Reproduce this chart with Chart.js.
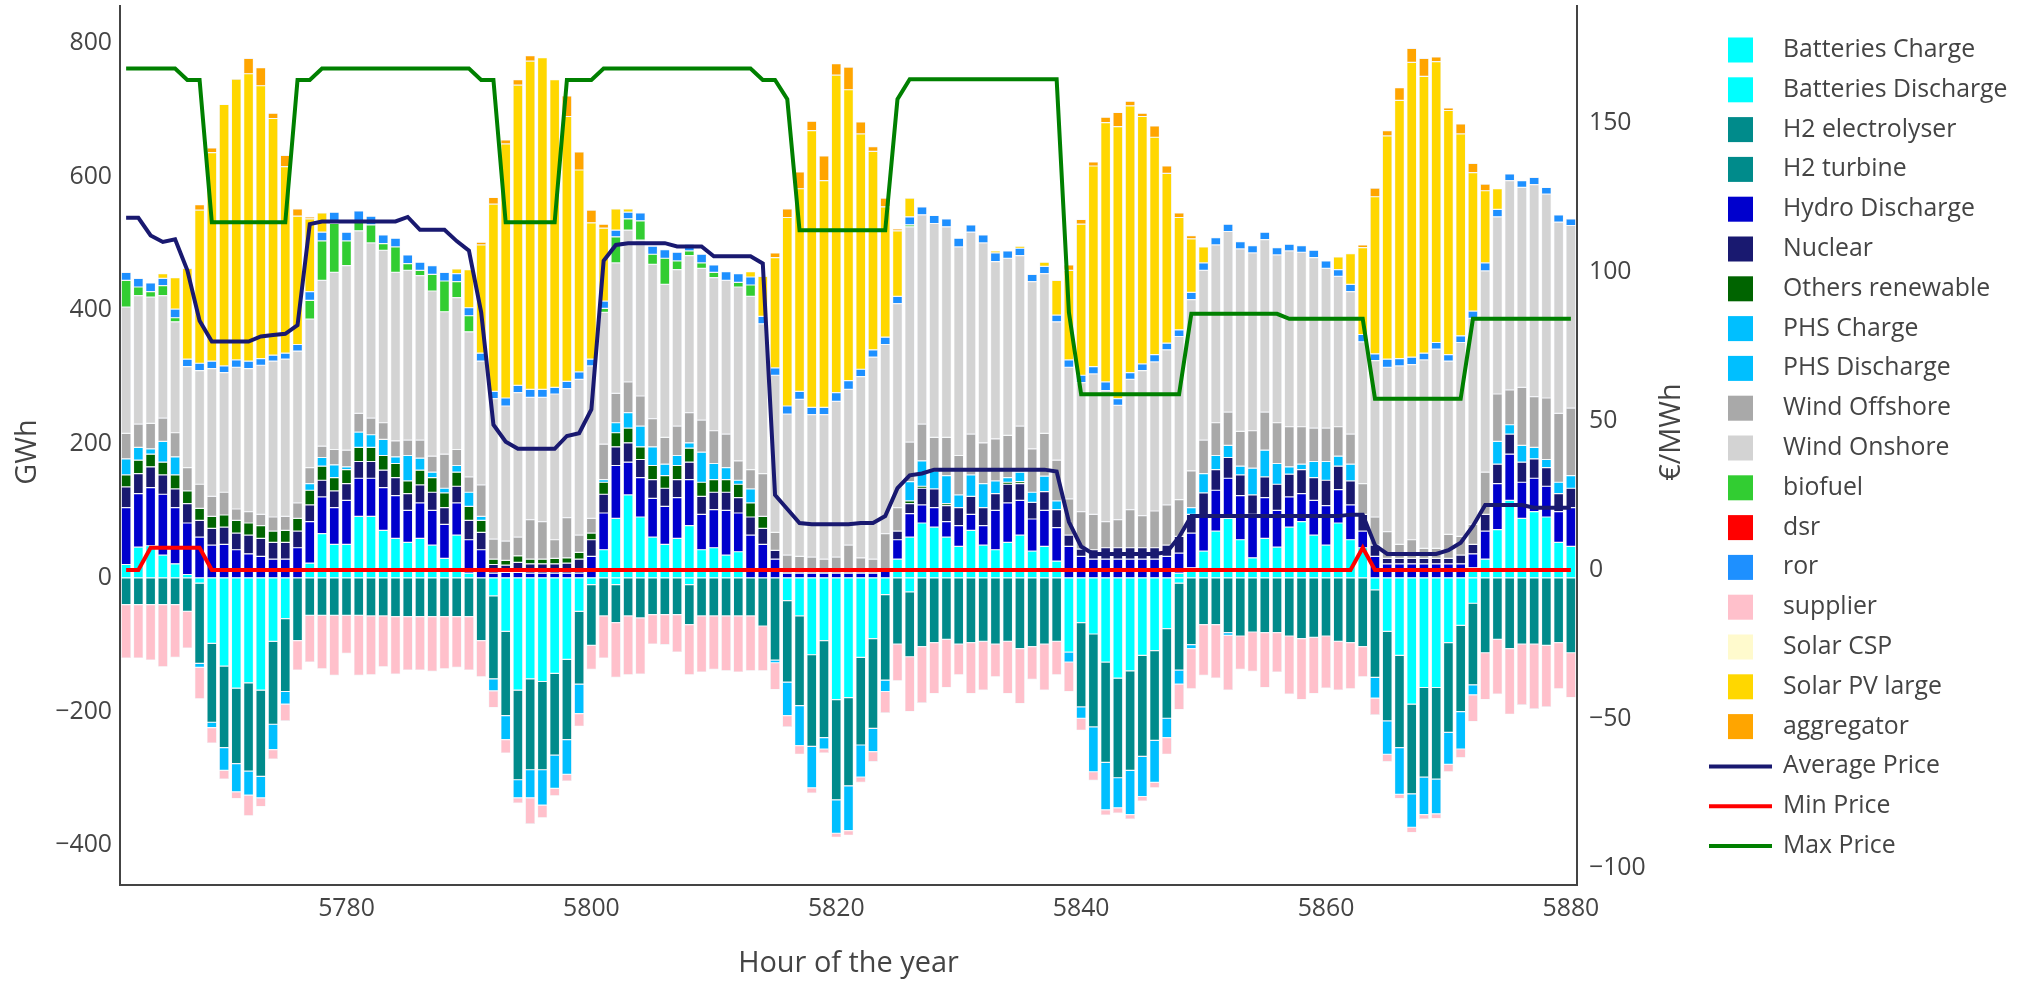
<!DOCTYPE html>
<html>
<head>
<meta charset="utf-8">
<title>Hourly dispatch and prices</title>
<script src="https://cdn.jsdelivr.net/npm/chart.js@4.4.1/dist/chart.umd.min.js"></script>
<style>
  html, body { margin: 0; padding: 0; background: #ffffff; }
  #wrap { width: 2020px; height: 981px; position: relative; }
  canvas { display: block; }
</style>
</head>
<body>
<div id="wrap"><canvas id="dispatch" width="2020" height="981"></canvas></div>
<script>
// Hour-of-year categories
const hours = [
  5762,5763,5764,5765,5766,5767,5768,5769,5770,5771,5772,5773,5774,5775,5776,5777,5778,5779,5780,5781,
  5782,5783,5784,5785,5786,5787,5788,5789,5790,5791,5792,5793,5794,5795,5796,5797,5798,5799,5800,5801,
  5802,5803,5804,5805,5806,5807,5808,5809,5810,5811,5812,5813,5814,5815,5816,5817,5818,5819,5820,5821,
  5822,5823,5824,5825,5826,5827,5828,5829,5830,5831,5832,5833,5834,5835,5836,5837,5838,5839,5840,5841,
  5842,5843,5844,5845,5846,5847,5848,5849,5850,5851,5852,5853,5854,5855,5856,5857,5858,5859,5860,5861,
  5862,5863,5864,5865,5866,5867,5868,5869,5870,5871,5872,5873,5874,5875,5876,5877,5878,5879,5880
];

// Tick values
const xTickValues = [5780, 5800, 5820, 5840, 5860, 5880];
const energyTicks = [-400, -200, 0, 200, 400, 600, 800];
const priceTicks = [-100, -50, 0, 50, 100, 150];

// Energy per technology (GWh); consumption is negative
const batteriesCharge = [
  0,0,0,0,0,0,-8,-98,-132,-165,-157,-168,-95,-61,0,0,0,0,0,0,
  0,0,0,0,0,0,0,0,0,0,-27,-80,-168,-151,-155,-143,-122,-50,-10,0,
  -10,0,0,0,0,0,-10,0,0,0,0,0,0,0,-34,-57,-115,-94,-182,-179,
  -119,-91,-25,0,-21,0,0,0,0,0,0,0,0,0,0,0,0,-111,-67,-84,
  -126,-150,-139,-116,-109,-76,-8,0,0,0,0,0,0,0,0,0,0,0,0,0,
  0,0,-18,-80,-116,-189,-164,-164,-97,-71,-38,0,0,0,0,0,0,0,0
];
const batteriesDischarge = [
  20,46,48,34,21,5,0,0,0,0,0,0,0,0,0,22,66,50,50,92,
  92,71,59,53,59,49,29,64,7,0,0,0,0,0,0,0,0,0,0,42,
  89,124,91,61,50,59,78,42,45,34,39,0,0,0,0,0,0,0,0,0,
  0,0,0,28,61,82,76,61,47,71,49,42,53,64,40,47,25,0,0,0,
  0,0,0,0,0,0,7,15,40,70,89,57,30,59,46,76,84,64,49,82,
  57,45,0,0,0,0,0,0,0,0,15,28,72,116,89,99,91,53,47
];
const h2Electrolyser = [
  -40,-40,-40,-40,-40,-50,-120,-118,-122,-113,-132,-129,-124,-109,-94,-56,-56,-56,-56,-56,
  -57,-57,-58,-58,-58,-58,-58,-58,-58,-94,-124,-126,-134,-136,-132,-122,-120,-109,-91,-57,
  -57,-57,-60,-55,-55,-55,-60,-57,-57,-57,-57,-57,-72,-123,-122,-134,-137,-145,-150,-132,
  -131,-134,-128,-99,-97,-103,-97,-92,-99,-97,-95,-99,-95,-106,-103,-99,-95,0,-126,-139,
  -150,-149,-149,-151,-134,-134,-130,-100,-70,-70,-82,-87,-81,-82,-82,-87,-91,-89,-87,-95,
  -97,-103,-131,-134,-138,-134,-134,-137,-134,-129,-122,-112,-92,-106,-99,-99,-101,-97,-112
];
const h2Turbine = [
  0,0,0,0,0,0,0,0,0,0,0,0,0,0,0,0,0,0,0,0,
  0,0,0,0,0,0,0,0,0,0,0,0,0,0,0,0,0,0,0,0,
  0,0,0,0,0,0,0,0,0,0,0,0,0,0,0,0,0,0,0,0,
  0,0,0,0,0,0,0,0,0,0,0,0,0,0,0,0,0,0,0,0,
  0,0,0,0,0,0,0,0,0,0,0,0,0,0,0,0,0,0,0,0,
  0,0,0,0,0,0,0,0,0,0,0,0,0,0,0,0,0,0,0
];
const hydroDischarge = [
  85,80,87,91,84,77,61,49,50,42,36,32,28,28,45,62,55,55,66,57,
  57,64,64,48,53,52,51,48,50,42,7,8,8,7,7,7,7,7,32,55,
  79,49,59,58,57,61,69,53,57,67,58,64,50,28,7,7,7,7,7,7,
  7,7,11,29,35,27,29,23,31,24,29,59,59,52,48,54,50,47,32,28,
  28,28,28,28,28,32,30,52,52,61,60,66,65,61,55,45,42,52,59,50,
  52,25,32,21,21,21,21,21,21,21,21,42,69,69,54,50,46,46,58
];
const nuclear = [
  31,30,31,29,28,29,25,25,26,25,28,27,25,25,25,25,25,25,25,25,
  25,26,27,25,27,27,25,25,29,26,13,11,15,14,14,14,15,21,25,28,
  28,29,27,28,27,27,26,27,26,27,23,27,24,13,0,0,0,0,0,0,
  0,0,0,13,15,25,28,24,27,27,27,25,28,25,25,28,27,17,11,14,
  17,17,17,17,17,17,25,28,35,31,31,31,29,31,39,34,36,34,38,35,
  36,25,17,8,8,8,8,8,8,13,14,25,29,30,30,29,28,27,29
];
const othersRenewable = [
  18,20,19,19,21,19,18,18,18,19,18,19,17,18,19,22,21,20,21,21,
  21,22,21,19,22,22,22,21,21,18,8,7,10,7,7,8,8,10,10,18,
  21,22,19,21,19,21,21,21,19,19,20,21,18,0,0,0,0,0,0,0,
  0,0,0,0,4,3,0,3,0,0,0,0,3,3,0,0,0,0,0,0,
  0,0,0,0,0,0,0,0,0,0,0,0,0,0,0,0,0,0,0,0,
  0,0,0,0,0,0,0,0,0,0,0,0,0,0,0,0,0,0,0
];
const phsCharge = [
  0,0,0,0,0,0,-6,-8,-34,-42,-36,-32,-38,-19,0,0,0,0,0,0,
  0,0,0,0,0,0,0,0,0,0,-18,-36,-27,-42,-53,-50,-52,-44,0,0,
  0,0,0,0,0,0,0,0,0,0,0,0,0,-4,-50,-60,-62,-17,-50,-67,
  -48,-35,-17,0,0,0,0,0,0,0,0,0,0,0,0,0,0,-15,-17,-67,
  -71,-45,-66,-60,-63,-29,-21,-6,0,0,-4,0,0,0,0,0,0,0,0,0,
  0,0,-31,-50,-70,-50,-56,-52,-48,-56,-15,0,0,0,0,0,0,0,0
];
const phsDischarge = [
  24,19,8,31,27,0,0,0,0,0,0,0,0,0,0,10,13,19,4,23,
  19,24,10,38,18,8,7,10,21,6,0,0,0,0,0,0,0,0,0,4,
  15,23,31,28,17,15,8,45,24,18,6,21,0,0,0,0,0,0,0,0,
  0,0,0,0,29,38,27,42,19,32,36,19,7,14,15,23,13,0,0,0,
  0,0,0,0,0,0,0,10,29,21,18,13,40,40,31,11,8,24,28,15,
  25,0,0,0,0,0,0,0,0,0,0,0,34,14,25,17,12,17,19
];
const windOffshore = [
  38,35,38,35,36,35,36,30,34,17,17,17,21,21,23,24,17,23,25,28,
  25,25,24,23,27,24,51,24,23,47,30,29,28,59,56,28,60,26,22,53,
  44,46,45,42,40,44,45,48,49,50,29,29,64,27,27,25,24,21,24,42,
  23,21,55,35,59,55,50,57,59,61,61,63,63,69,65,64,61,54,56,53,
  39,42,57,48,55,60,55,55,50,49,50,52,56,57,61,60,56,50,50,44,
  45,46,42,40,21,28,15,15,36,28,30,63,71,52,87,76,92,103,101
];
const windOnshore = [
  189,192,189,183,166,151,170,191,179,212,214,223,233,235,227,222,248,265,276,273,
  262,258,252,254,246,247,213,227,217,185,210,202,216,183,186,218,193,233,228,197,
  195,227,233,231,229,234,235,227,229,230,260,259,224,235,211,235,213,216,233,233,
  271,302,283,305,322,313,320,315,312,302,299,265,265,255,250,239,207,197,193,210,
  196,171,195,217,223,232,244,256,254,266,270,273,266,258,251,263,261,255,239,225,
  213,212,234,246,267,262,282,298,259,290,308,301,265,313,299,317,305,286,273
];
const biofuel = [
  40,13,8,15,6,0,0,0,0,0,0,0,0,0,0,28,59,73,37,13,
  27,10,38,10,8,25,46,24,24,0,0,0,0,0,0,0,0,0,0,6,
  39,17,29,15,39,13,7,8,8,0,7,17,0,0,0,0,0,0,0,0,
  0,0,0,0,3,0,0,0,0,0,0,0,0,0,0,0,0,0,0,0,
  0,0,0,0,0,0,0,0,0,0,0,0,0,0,0,0,0,0,0,0,
  0,0,0,0,0,0,0,0,0,0,0,0,0,0,0,0,0,0,0
];
const dsr = [
  0,0,0,0,0,0,0,0,0,0,0,0,0,0,0,0,0,0,0,0,
  0,0,0,0,0,0,0,0,0,0,0,0,0,0,0,0,0,0,0,0,
  0,0,0,0,0,0,0,0,0,0,0,0,0,0,0,0,0,0,0,0,
  0,0,0,0,0,0,0,0,0,0,0,0,0,0,0,0,0,0,0,0,
  0,0,0,0,0,0,0,0,0,0,0,0,0,0,0,0,0,0,0,0,
  0,0,0,0,0,0,0,0,0,0,0,0,0,0,0,0,0,0,0
];
const ror = [
  12,13,13,11,13,11,11,11,10,11,11,10,9,9,10,13,13,17,13,17,
  13,13,13,13,12,13,13,12,12,12,11,12,11,12,12,10,11,11,10,11,
  10,10,12,12,13,13,10,13,11,13,13,12,11,11,12,12,11,11,13,13,
  11,11,11,11,12,12,12,12,13,11,12,13,11,11,11,11,10,11,11,11,
  13,10,10,10,11,10,10,11,11,11,11,11,11,11,11,10,10,11,11,10,
  11,11,10,12,11,11,10,10,10,10,11,12,11,10,10,11,10,11,10
];
const supplier = [
  -80,-80,-83,-93,-79,-55,-47,-23,-13,-10,-31,-13,-14,-25,-44,-70,-80,-90,-57,-90,
  -88,-76,-86,-80,-80,-82,-78,-76,-80,-54,-25,-20,-8,-39,-19,-11,-10,-19,-36,-63,
  -82,-88,-84,-44,-45,-56,-75,-84,-80,-82,-84,-82,-67,-40,-17,-13,-8,-6,-6,-7,
  -8,-15,-32,-55,-82,-84,-76,-72,-46,-76,-73,-49,-78,-82,-49,-69,-50,-44,-18,-13,
  -8,-8,-7,-7,-8,-25,-38,-60,-76,-80,-82,-50,-59,-82,-59,-87,-91,-84,-78,-73,
  -69,-45,-25,-11,-6,-8,-7,-7,-11,-13,-40,-70,-82,-98,-91,-97,-92,-69,-67
];
const solarCSP = [
  0,0,0,0,0,0,0,0,0,0,0,0,0,0,0,0,0,0,0,0,
  0,0,0,0,0,0,0,0,0,0,0,0,0,0,0,0,0,0,0,0,
  0,0,0,0,0,0,0,0,0,0,0,0,0,0,0,0,0,0,0,0,
  0,0,0,0,0,0,0,0,0,0,0,0,0,0,0,0,0,0,0,0,
  0,0,0,0,0,0,0,0,0,0,0,0,0,0,0,0,0,0,0,0,
  0,0,0,0,0,0,0,0,0,0,0,0,0,0,0,0,0,0,0
];
const solarPVLarge = [
  0,0,0,7,47,136,229,312,391,420,430,408,354,279,192,109,29,0,0,0,
  0,0,0,0,0,0,0,7,57,162,280,380,449,491,496,460,396,302,204,109,
  32,5,0,0,0,0,0,0,0,0,0,8,60,165,282,303,414,339,475,435,
  352,297,195,98,28,0,0,0,0,0,0,3,0,3,0,6,52,134,226,300,
  388,407,399,370,325,254,168,80,24,0,0,0,0,0,0,0,0,0,0,19,
  46,130,235,334,386,441,414,420,365,302,207,108,31,0,0,0,0,0,0
];
const aggregator = [
  0,0,0,0,0,0,8,7,0,0,23,27,8,17,11,3,0,0,0,0,
  0,0,0,0,0,0,0,0,0,4,10,6,8,8,0,0,31,27,19,6,
  0,0,0,0,0,0,0,0,0,0,0,0,0,7,13,25,14,37,17,34,
  18,7,13,3,0,0,0,0,0,0,0,0,0,0,0,0,0,8,7,6,
  8,21,7,5,17,11,7,5,0,0,0,0,0,0,0,0,0,0,0,0,
  0,4,13,8,19,21,27,7,4,15,14,10,0,0,0,0,0,0,0
];

// Prices (EUR/MWh)
const averagePrice = [
  118.2,118.2,112.3,110.1,111.0,100.6,83.7,76.7,76.7,76.7,76.7,78.4,78.9,79.3,82.2,116.1,117.0,117.0,117.0,117.0,
  117.0,117.0,117.0,118.5,114.2,114.2,114.2,110.4,107.2,86.5,48.8,43.1,40.7,40.7,40.7,40.7,45.0,45.9,53.9,103.8,
  109.1,109.7,109.7,109.7,109.7,108.6,108.6,108.6,105.3,105.3,105.3,105.3,102.9,25.2,20.5,15.8,15.4,15.4,15.4,15.4,
  15.8,15.8,18.1,27.5,31.8,32.4,33.7,33.7,33.7,33.7,33.7,33.7,33.7,33.7,33.7,33.7,33.1,16.2,7.9,5.4,
  5.4,5.4,5.4,5.4,5.4,6.0,11.1,18.1,18.1,18.1,18.1,18.1,18.1,18.1,18.1,18.1,18.1,18.1,18.1,18.1,
  18.6,18.6,8.3,5.4,5.4,5.4,5.4,5.4,6.7,9.2,14.8,21.8,21.8,21.8,21.8,20.9,20.9,20.9,20.9
];
const minPrice = [
  0,0,7.5,7.5,7.5,7.5,7.5,0,0,0,0,0,0,0,0,0,0,0,0,0,
  0,0,0,0,0,0,0,0,0,0,0,0,0,0,0,0,0,0,0,0,
  0,0,0,0,0,0,0,0,0,0,0,0,0,0,0,0,0,0,0,0,
  0,0,0,0,0,0,0,0,0,0,0,0,0,0,0,0,0,0,0,0,
  0,0,0,0,0,0,0,0,0,0,0,0,0,0,0,0,0,0,0,0,
  0,7.5,0,0,0,0,0,0,0,0,0,0,0,0,0,0,0,0,0
];
const maxPrice = [
  168.3,168.3,168.3,168.3,168.3,164.5,164.5,116.7,116.7,116.7,116.7,116.7,116.7,116.7,164.5,164.5,168.3,168.3,168.3,168.3,
  168.3,168.3,168.3,168.3,168.3,168.3,168.3,168.3,168.3,164.5,164.5,116.7,116.7,116.7,116.7,116.7,164.5,164.5,164.5,168.3,
  168.3,168.3,168.3,168.3,168.3,168.3,168.3,168.3,168.3,168.3,168.3,168.3,164.5,164.5,158.0,114.0,114.0,114.0,114.0,114.0,
  114.0,114.0,114.0,158.0,164.7,164.7,164.7,164.7,164.7,164.7,164.7,164.7,164.7,164.7,164.7,164.7,164.7,86.5,59.0,59.0,
  59.0,59.0,59.0,59.0,59.0,59.0,59.0,86.0,86.0,86.0,86.0,86.0,86.0,86.0,86.0,84.3,84.3,84.3,84.3,84.3,
  84.3,84.3,57.5,57.5,57.5,57.5,57.5,57.5,57.5,57.5,84.3,84.3,84.3,84.3,84.3,84.3,84.3,84.3,84.3
];

// Stack order (bottom to top), legend order
const barSeries = [
  { label: 'Batteries Charge',    data: batteriesCharge,    color: '#00ffff' },
  { label: 'Batteries Discharge', data: batteriesDischarge, color: '#00ffff' },
  { label: 'H2 electrolyser',     data: h2Electrolyser,     color: '#008b8b' },
  { label: 'H2 turbine',          data: h2Turbine,          color: '#008b8b' },
  { label: 'Hydro Discharge',     data: hydroDischarge,     color: '#0000cd' },
  { label: 'Nuclear',             data: nuclear,            color: '#191970' },
  { label: 'Others renewable',    data: othersRenewable,    color: '#006400' },
  { label: 'PHS Charge',          data: phsCharge,          color: '#00bfff' },
  { label: 'PHS Discharge',       data: phsDischarge,       color: '#00bfff' },
  { label: 'Wind Offshore',       data: windOffshore,       color: '#a9a9a9' },
  { label: 'Wind Onshore',        data: windOnshore,        color: '#d3d3d3' },
  { label: 'biofuel',             data: biofuel,            color: '#32cd32' },
  { label: 'dsr',                 data: dsr,                color: '#ff0000' },
  { label: 'ror',                 data: ror,                color: '#1e90ff' },
  { label: 'supplier',            data: supplier,           color: '#ffc0cb' },
  { label: 'Solar CSP',           data: solarCSP,           color: '#fffacd' },
  { label: 'Solar PV large',      data: solarPVLarge,       color: '#ffd700' },
  { label: 'aggregator',          data: aggregator,         color: '#ffa500' }
];
const lineSeries = [
  { label: 'Average Price', data: averagePrice, color: '#191970' },
  { label: 'Min Price',     data: minPrice,     color: '#ff0000' },
  { label: 'Max Price',     data: maxPrice,     color: '#008000' }
];

const TEXT = '#444444';
const TICK_SIZE = 24.8;
const TITLE_SIZE = 28.9;
const FAMILY = '"Open Sans", "DejaVu Sans", sans-serif';
const minusSign = v => (v < 0 ? '\u2212' + Math.abs(v) : String(v));

// Legend at the right of the plot
const sideLegend = {
  id: 'sideLegend',
  afterDraw(chart) {
    const ctx = chart.ctx;
    const top = 50, step = 39.8;
    ctx.save();
    ctx.font = TICK_SIZE + 'px ' + FAMILY;
    ctx.textBaseline = 'middle';
    ctx.textAlign = 'left';
    chart.data.datasets.forEach((ds, i) => {
      const y = top + i * step;
      if (ds.type === 'line') {
        ctx.strokeStyle = ds.borderColor;
        ctx.lineWidth = 4;
        ctx.beginPath();
        ctx.moveTo(1709, y);
        ctx.lineTo(1772, y);
        ctx.stroke();
      } else {
        ctx.fillStyle = ds.backgroundColor;
        ctx.fillRect(1728, y - 12.5, 25, 25);
      }
      ctx.fillStyle = TEXT;
      ctx.fillText(ds.label, 1783, y);
    });
    ctx.restore();
  }
};

// Vertical axis titles, both reading bottom-to-top
const yTitles = {
  id: 'yTitles',
  afterDraw(chart) {
    const ctx = chart.ctx;
    ctx.save();
    ctx.font = TITLE_SIZE + 'px ' + FAMILY;
    ctx.fillStyle = TEXT;
    ctx.textAlign = 'center';
    ctx.textBaseline = 'middle';
    [[28, 452, 'GWh'], [1672, 432, '\u20ac/MWh']].forEach(([x, y, text]) => {
      ctx.save();
      ctx.translate(x, y);
      ctx.rotate(-Math.PI / 2);
      ctx.fillText(text, 0, 0);
      ctx.restore();
    });
    ctx.restore();
  }
};

function draw() {
  Chart.defaults.font.family = FAMILY;
  Chart.defaults.color = TEXT;

  const datasets = [];
  barSeries.forEach(s => datasets.push({
    type: 'bar',
    label: s.label,
    data: s.data,
    backgroundColor: s.color,
    borderColor: '#eceef3',
    borderWidth: 0.6,
    borderSkipped: false,
    stack: 'energy',
    yAxisID: 'y',
    barPercentage: 0.8,
    categoryPercentage: 1.0,
    order: 1
  }));
  lineSeries.forEach(s => datasets.push({
    type: 'line',
    label: s.label,
    data: s.data,
    borderColor: s.color,
    backgroundColor: s.color,
    borderWidth: 4,
    pointRadius: 0,
    tension: 0,
    fill: false,
    yAxisID: 'y1',
    order: 0
  }));

  const axisBorder = { display: true, color: TEXT, width: 2 };
  const noGrid = { display: false, drawTicks: false };

  new Chart(document.getElementById('dispatch'), {
    type: 'bar',
    data: { labels: hours, datasets },
    options: {
      responsive: false,
      animation: false,
      devicePixelRatio: 1,
      events: [],
      layout: { padding: { left: 0, top: 6, right: 323, bottom: 0 } },
      plugins: { legend: { display: false }, tooltip: { enabled: false } },
      scales: {
        x: {
          type: 'category',
          stacked: true,
          offset: true,
          grid: noGrid,
          border: axisBorder,
          ticks: {
            autoSkip: false,
            maxRotation: 0,
            minRotation: 0,
            padding: 9,
            color: TEXT,
            font: { size: TICK_SIZE },
            callback: (v, i) => (xTickValues.includes(hours[i]) ? String(hours[i]) : '')
          },
          title: {
            display: true,
            text: 'Hour of the year',
            color: TEXT,
            font: { size: TITLE_SIZE },
            padding: { top: 0, bottom: 0 }
          },
          afterFit(s) { s.height = 96; s.paddingLeft = 0; s.paddingRight = 0; }
        },
        y: {
          position: 'left',
          stacked: true,
          min: -459.4,
          max: 855.3,
          grid: noGrid,
          border: axisBorder,
          ticks: { padding: 8, color: TEXT, font: { size: TICK_SIZE }, callback: v => minusSign(v) },
          afterBuildTicks(s) { s.ticks = energyTicks.map(v => ({ value: v })); },
          afterFit(s) { s.width = 120; s.paddingTop = 0; s.paddingBottom = 0; }
        },
        y1: {
          position: 'right',
          min: -105.7,
          max: 189.3,
          grid: noGrid,
          border: axisBorder,
          ticks: { padding: 12, color: TEXT, font: { size: TICK_SIZE }, callback: v => minusSign(v) },
          afterBuildTicks(s) { s.ticks = priceTicks.map(v => ({ value: v })); },
          afterFit(s) { s.width = 120; s.paddingTop = 0; s.paddingBottom = 0; }
        }
      }
    },
    plugins: [sideLegend, yTitles]
  });
}

if (document.fonts && document.fonts.load) {
  Promise.all([
    document.fonts.load('25px "Open Sans"'),
    document.fonts.load('29px "Open Sans"')
  ]).then(draw, draw);
} else {
  draw();
}
</script>
</body>
</html>
